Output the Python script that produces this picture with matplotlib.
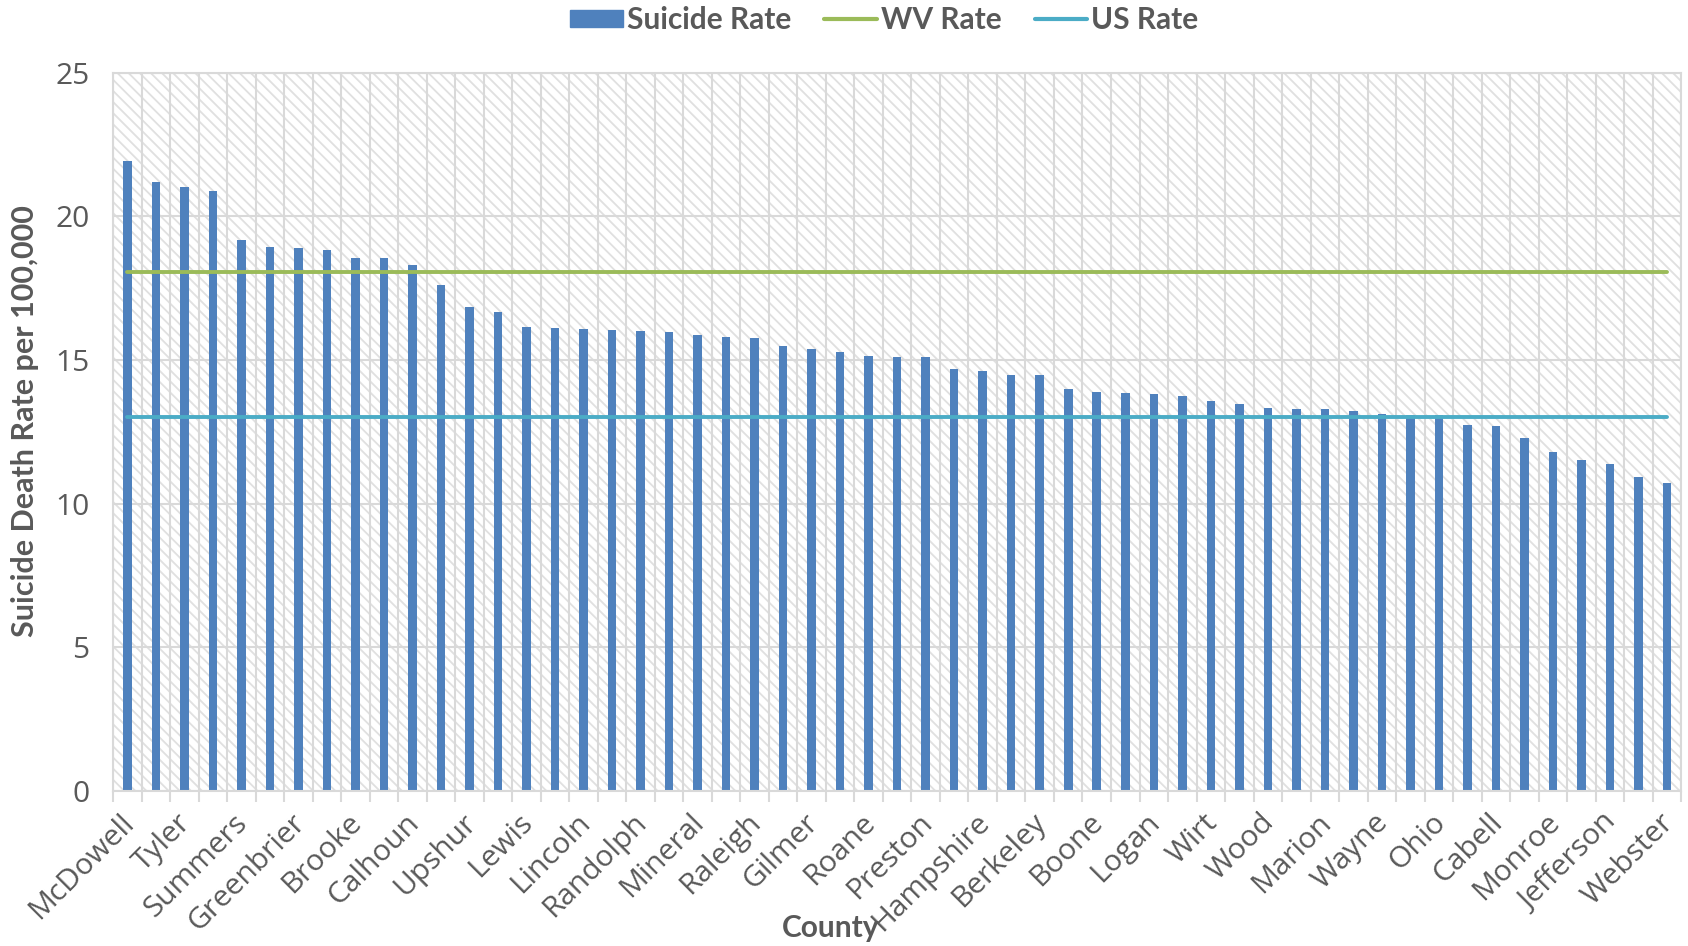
import matplotlib
matplotlib.use("Agg")
import matplotlib.pyplot as plt
import matplotlib.transforms as mtransforms
import numpy as np
from matplotlib.lines import Line2D
from matplotlib.patches import Patch, Rectangle

# County suicide death rates per 100,000, sorted high to low
counties = [
    "McDowell", "Wyoming", "Tyler", "Mingo", "Summers", "Pocahontas",
    "Greenbrier", "Clay", "Brooke", "Hardy", "Calhoun", "Nicholas",
    "Upshur", "Braxton", "Lewis", "Mercer", "Lincoln", "Wetzel",
    "Randolph", "Barbour", "Mineral", "Fayette", "Raleigh", "Ritchie",
    "Gilmer", "Tucker", "Roane", "Doddridge", "Preston", "Mason",
    "Hampshire", "Kanawha", "Berkeley", "Marshall", "Boone", "Jackson",
    "Logan", "Hancock", "Wirt", "Grant", "Wood", "Morgan", "Marion",
    "Harrison", "Wayne", "Pendleton", "Ohio", "Taylor", "Cabell",
    "Putnam", "Monroe", "Pleasants", "Jefferson", "Monongalia", "Webster",
]
suicide_rate = [
    21.94, 21.20, 21.02, 20.87, 19.19, 18.93, 18.90, 18.82, 18.55, 18.54,
    18.31, 17.63, 16.84, 16.67, 16.15, 16.10, 16.08, 16.03, 16.00, 15.96,
    15.87, 15.80, 15.77, 15.48, 15.40, 15.27, 15.13, 15.12, 15.10, 14.69,
    14.62, 14.48, 14.48, 13.98, 13.89, 13.85, 13.81, 13.74, 13.58, 13.46,
    13.33, 13.31, 13.28, 13.22, 13.13, 13.07, 13.07, 12.74, 12.72, 12.29,
    11.81, 11.52, 11.38, 10.93, 10.72,
]
wv_rate = 18.07
us_rate = 13.0

y_ticks = [0, 5, 10, 15, 20, 25]

BAR = "#4F81BD"
WV = "#9BBB59"
US = "#4BACC6"
GRID = "#D9D9D9"
TEXT = "#595959"

plt.rcParams["font.family"] = ["Open Sans", "DejaVu Sans"]
plt.rcParams["hatch.linewidth"] = 1.3
TITLE_FONT = ["Lato", "DejaVu Sans"]

fig = plt.figure(figsize=(16.88, 9.46), dpi=100)
ax = fig.add_axes([0.067, 0.164, 0.929, 0.759])

n = len(counties)
x = np.arange(n)
ax.set_xlim(-0.5, n - 0.5)
ax.set_ylim(0, 25)

# fundo com hachura diagonal clara
ax.set_facecolor("white")
ax.add_patch(Rectangle((0, 0), 1, 1, transform=ax.transAxes,
                       facecolor="none", edgecolor="#E0E0E0", hatch="\\\\\\",
                       linewidth=0, zorder=0))

ax.bar(x, suicide_rate, width=0.3, color=BAR, zorder=2)
ax.plot(x, [wv_rate] * n, color=WV, lw=2.8, solid_capstyle="round", zorder=3)
ax.plot(x, [us_rate] * n, color=US, lw=2.8, solid_capstyle="round", zorder=3)

# grades: horizontais nos ticks y, verticais entre categorias
ax.set_yticks(y_ticks)
ax.set_xticks(x[::2])
ax.set_xticklabels(counties[::2], rotation=45, ha="right",
                   rotation_mode="anchor")
ax.set_xticks(np.arange(-0.5, n, 1), minor=True)
ax.yaxis.grid(True, color=GRID, lw=1.5, zorder=1)
ax.xaxis.grid(True, which="minor", color=GRID, lw=1.5, zorder=1)
ax.set_axisbelow(True)

ax.tick_params(axis="x", which="major", length=0, labelsize=21.5,
               labelcolor=TEXT, pad=11)
ax.tick_params(axis="x", which="minor", length=8, color=GRID, width=1.5)
ax.tick_params(axis="y", length=0, labelsize=21.5, labelcolor=TEXT, pad=17)

# desloca um pouco os rótulos inclinados para a esquerda
shift = mtransforms.ScaledTranslation(-8 / 100, -2 / 100, fig.dpi_scale_trans)
for lbl in ax.get_xticklabels():
    lbl.set_transform(lbl.get_transform() + shift)

for sp in ax.spines.values():
    sp.set_color(GRID)
    sp.set_linewidth(1.5)

ax.set_ylabel("Suicide Death Rate per 100,000", fontsize=22,
              fontweight="bold", color=TEXT, family=TITLE_FONT)
ax.yaxis.set_label_coords(-0.047, 0.515)
fig.text(0.492, 0.019, "County", fontsize=21.5, fontweight="bold",
         color=TEXT, ha="center", va="center", family=TITLE_FONT)

handles = [
    Patch(color=BAR),
    Line2D([], [], color=WV, lw=3, solid_capstyle="round"),
    Line2D([], [], color=US, lw=3, solid_capstyle="round"),
]
fig.legend(handles, ["Suicide Rate", "WV Rate", "US Rate"], loc="center",
           bbox_to_anchor=(0.524, 0.979), ncol=3, frameon=False,
           prop={"family": TITLE_FONT, "size": 21.5, "weight": "bold"},
           labelcolor=TEXT, handlelength=1.75, handleheight=0.5,
           handletextpad=0.15, columnspacing=1.1)

fig.savefig("out.png", dpi=100)
